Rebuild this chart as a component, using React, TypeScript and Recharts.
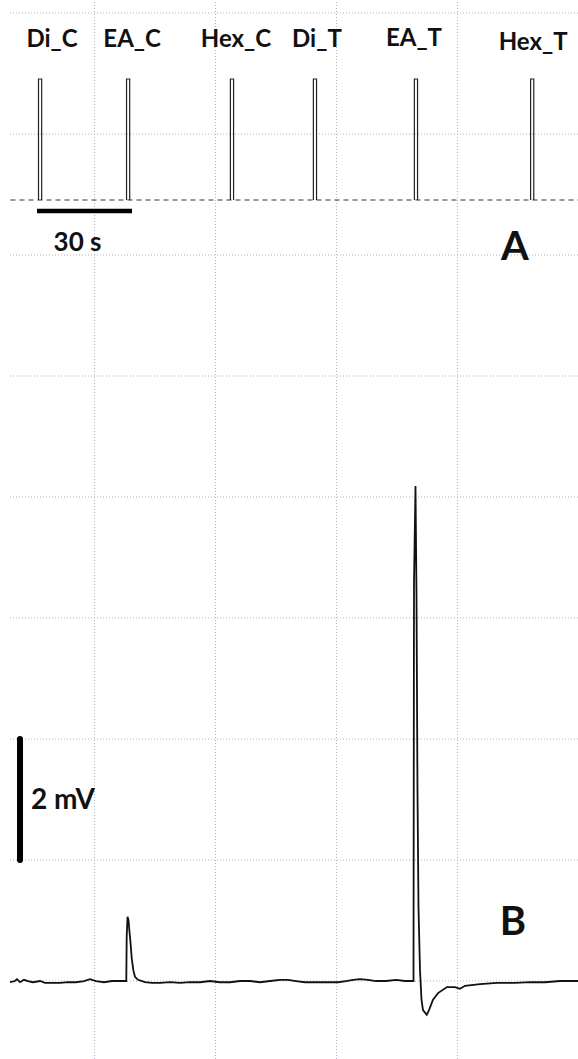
import React from "react";
import { ComposedChart, Line, XAxis, YAxis, ReferenceLine, ReferenceDot } from "recharts";

// time in s, stimulus pulse onsets (panel A)
const STIMULI = ["Di_C", "EA_C", "Hex_C", "Di_T", "EA_T", "Hex_T"];
const PULSE_ONSETS = [0, 27.8, 60.6, 86.8, 118.7, 155.4];
const PULSE_WIDTH = 1;

// recorded potential (panel B): time s, mV
const TRACE_T = [
  -9.0, -7.42, -6.8, -5.84, -4.58, -3.32, -1.74, 0.47, 2.05, 4.26, 6.79, 9.32, 11.84, 14.37, 16.26, 18.16,
  20.68, 23.21, 25.74, 27.72, 27.85, 28.11, 28.42, 28.74, 29.05, 29.43, 29.94, 30.47, 31.42, 33.63,
  35.84, 38.37, 41.53, 44.68, 47.84, 51.0, 54.16, 57.32, 60.47, 63.63, 66.79, 69.95, 73.11, 76.26,
  78.79, 81.32, 84.16, 87.32, 90.47, 94.58, 97.11, 99.32, 101.53, 104.05, 106.58, 109.74, 112.9,
  115.74, 118.42, 118.58, 119.05, 119.37, 119.68, 120.0, 120.47, 120.95, 121.42, 122.59, 123.32,
  124.58, 126.16, 129.0, 131.53, 133.11, 134.68, 139.42, 144.79, 150.47, 155.21, 159.95, 164.68, 170.37,
];
const TRACE_MV = [
  -0.02, 0, 0.03, -0.02, 0.02, 0, -0.02, 0, -0.03, -0.03, -0.03, -0.02, -0.02, 0, 0.03, 0,
  -0.02, 0, 0, 0, 0.73, 1.06, 1.01, 0.81, 0.64, 0.38, 0.18, 0.07, 0.02, -0.02,
  -0.03, -0.03, -0.02, -0.03, -0.02, -0.02, 0, -0.02, -0.02, 0, 0, -0.02, 0, 0.02,
  0.02, 0, -0.02, -0.02, -0.02, -0.02, 0, 0.02, 0.03, 0.02, 0, 0, 0.02,
  0, 0, 6.58, 8.18, 6.35, 3.16, 1.21, 0.18, -0.31, -0.48, -0.56, -0.48,
  -0.31, -0.2, -0.1, -0.1, -0.13, -0.08, -0.05, -0.03, -0.03, -0.02, -0.02, 0, 0,
];

// background grid
const GRID_T = [17.7, 55.9, 94.1, 132.3];
const GRID_MV = [0, 2, 4, 6, 8, 10, 12, 14, 16];

// scale bars
const TIME_BAR = { t: -0.47, len: 30 };
const VOLT_BAR = { t: -5.84, from: 2, to: 4 };

const LABEL_DX = [12, 4, 4, 2, -2, 1];
const LABEL_DY = [0, 0, 0, 0, -1, 3];

const FONT = "Lato, 'Open Sans', sans-serif";
const GRID_COLOR = "#aeb2c6";
const X_DOMAIN = [-12.16, 170.37];
const A_DOMAIN = [-7.099, 1.653];
const B_DOMAIN = [-1.289, 16.215];

const traceData = TRACE_T.map((t, i) => ({ t, v: TRACE_MV[i] }));

const pulseData = (t0: number) => [
  { t: t0, v: 0 },
  { t: t0, v: 1 },
  { t: t0 + PULSE_WIDTH, v: 1 },
  { t: t0 + PULSE_WIDTH, v: 0 },
];

const txt = (value: string, size: number, anchor = "middle", dx = 0, dy = 0) => (p: any) => (
  <text
    x={p.cx + dx}
    y={p.cy + dy}
    textAnchor={anchor}
    dominantBaseline="central"
    fontFamily={FONT}
    fontWeight={700}
    fontSize={size}
    fill="#111"
  >
    {value}
  </text>
);

export default function App() {
  return (
    <div style={{ position: "absolute", left: 0, top: 0, width: 578, height: 1059, background: "#fff" }}>
      <ComposedChart width={578} height={1059} margin={{ top: 0, right: 0, bottom: 0, left: 0 }}>
        <XAxis type="number" dataKey="t" domain={X_DOMAIN} hide allowDataOverflow />
        <YAxis yAxisId="a" type="number" domain={A_DOMAIN} hide allowDataOverflow />
        <YAxis yAxisId="b" type="number" domain={B_DOMAIN} hide allowDataOverflow />

        {GRID_T.map((t) => (
          <ReferenceLine key={"gx" + t} yAxisId="b" x={t} stroke={GRID_COLOR} strokeDasharray="1 2" />
        ))}
        {GRID_MV.map((v) => (
          <ReferenceLine
            key={"gy" + v}
            yAxisId="b"
            segment={[{ x: -9.0, y: v }, { x: X_DOMAIN[1], y: v }]}
            stroke={GRID_COLOR}
            strokeDasharray="1 2"
          />
        ))}

        {/* panel A */}
        <ReferenceLine
          yAxisId="a"
          segment={[{ x: -8.85, y: 0 }, { x: X_DOMAIN[1], y: 0 }]}
          stroke="#333"
          strokeDasharray="5 4"
          strokeWidth={1.2}
        />
        {PULSE_ONSETS.map((t0, i) => (
          <Line
            key={STIMULI[i]}
            yAxisId="a"
            data={pulseData(t0)}
            dataKey="v"
            type="linear"
            stroke="#222"
            strokeWidth={1.2}
            dot={false}
            activeDot={false}
            isAnimationActive={false}
          />
        ))}
        {PULSE_ONSETS.map((t0, i) => (
          <ReferenceDot
            key={"lbl" + i}
            yAxisId="a"
            x={t0 + PULSE_WIDTH / 2}
            y={1.339}
            r={1}
            shape={txt(STIMULI[i], 24, "middle", LABEL_DX[i], LABEL_DY[i])}
          />
        ))}
        <ReferenceLine
          yAxisId="a"
          segment={[{ x: TIME_BAR.t, y: -0.09 }, { x: TIME_BAR.t + TIME_BAR.len, y: -0.09 }]}
          stroke="#000"
          strokeWidth={4.5}
        />
        <ReferenceDot yAxisId="a" x={12.32} y={-0.339} r={1} shape={txt("30 s", 26)} />
        <ReferenceDot yAxisId="a" x={150.47} y={-0.372} r={1} shape={txt("A", 40)} />

        {/* panel B */}
        <ReferenceLine
          yAxisId="b"
          segment={[{ x: VOLT_BAR.t, y: VOLT_BAR.from }, { x: VOLT_BAR.t, y: VOLT_BAR.to }]}
          stroke="#000"
          strokeWidth={6}
          strokeLinecap="round"
        />
        <ReferenceDot yAxisId="b" x={-2.36} y={3.02} r={1} shape={txt("2 mV", 28, "start")} />
        <ReferenceDot yAxisId="b" x={149.84} y={1.008} r={1} shape={txt("B", 40)} />
        <Line
          yAxisId="b"
          data={traceData}
          dataKey="v"
          type="linear"
          stroke="#111"
          strokeWidth={1.8}
          dot={false}
          activeDot={false}
          isAnimationActive={false}
        />
      </ComposedChart>
    </div>
  );
}
